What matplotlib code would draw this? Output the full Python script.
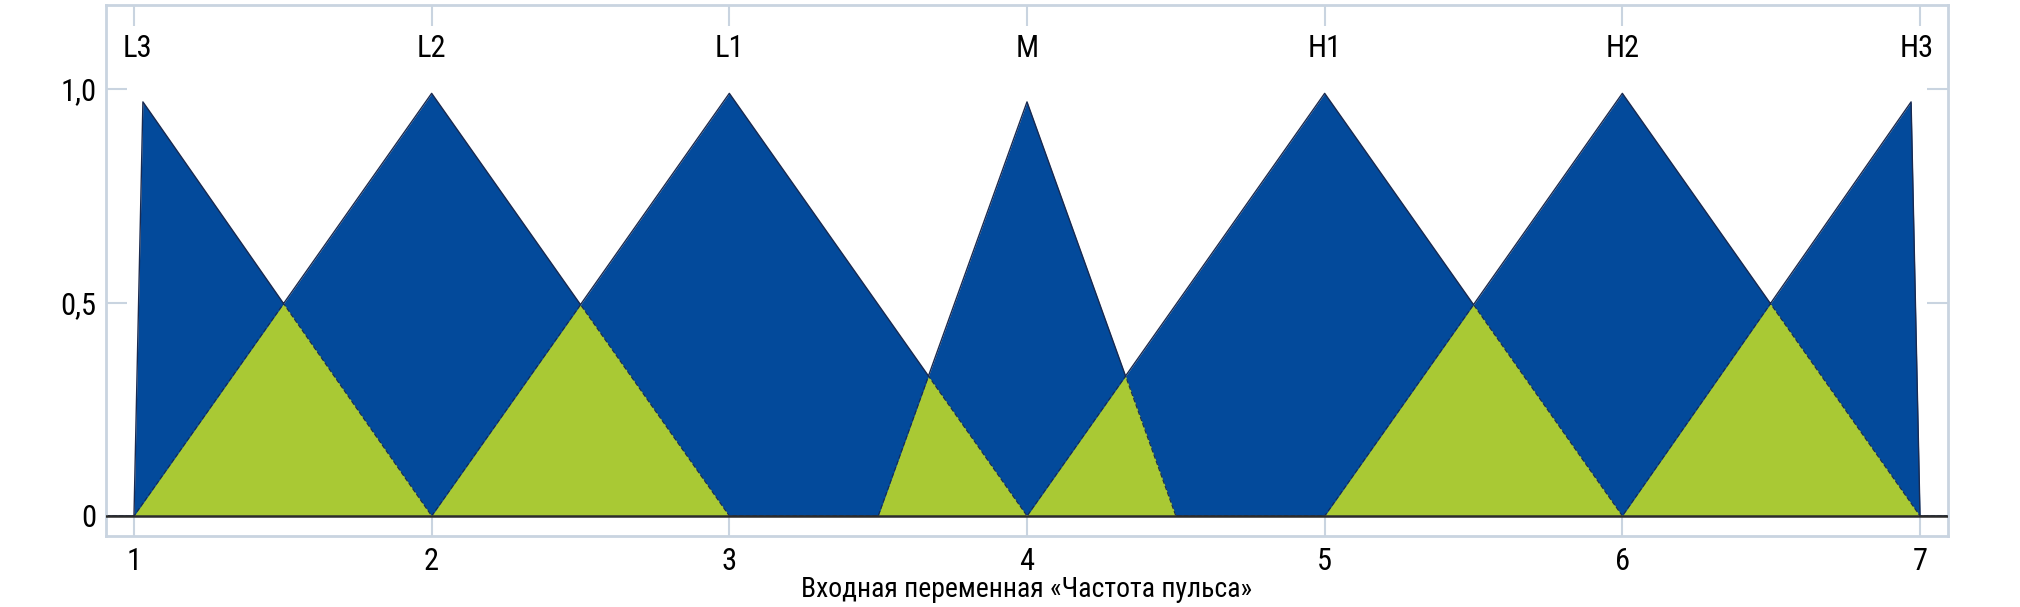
import numpy as np
import matplotlib
matplotlib.use("Agg")
import matplotlib.pyplot as plt

# термы входной переменной и вершины треугольных функций принадлежности
terms = ['L3', 'L2', 'L1', 'M', 'H1', 'H2', 'H3']
term_pos = [1.01, 2, 3, 4, 5, 6, 6.99]
mf_x = [
    [1.0, 1.03, 2.0],
    [1.0, 2.0, 3.0],
    [2.0, 3.0, 4.0],
    [3.5, 4.0, 4.5],
    [4.0, 5.0, 6.0],
    [5.0, 6.0, 7.0],
    [6.0, 6.97, 7.0],
]
mf_y = [
    [0, 0.97, 0],
    [0, 0.99, 0],
    [0, 0.99, 0],
    [0, 0.97, 0],
    [0, 0.99, 0],
    [0, 0.99, 0],
    [0, 0.97, 0],
]
x_ticks = [1, 2, 3, 4, 5, 6, 7]
y_ticks = [0, 0.5, 1.0]
y_tick_labels = ['0', '0,5', '1,0']
x_label = 'Входная переменная «Частота пульса»'

blue = '#034a9b'
green = '#a9c934'
frame = '#c9d4e0'

plt.rcParams['font.family'] = ['Roboto Condensed', 'DejaVu Sans']

x = np.linspace(0.9, 7.1, 6201)
mu = np.array([np.interp(x, xs, ys, left=0, right=0) for xs, ys in zip(mf_x, mf_y)])
mu_sorted = np.sort(mu, axis=0)
top = mu_sorted[-1]       # объединение всех термов
overlap = mu_sorted[-2]   # пересечение соседних термов

fig = plt.figure(figsize=(20.2, 6.07), dpi=100)
ax = fig.add_axes([106 / 2020, 1 - 536 / 607, (1948 - 106) / 2020, (536 - 5) / 607])

ax.fill_between(x, 0, top, color=blue, lw=0)
ax.fill_between(x, 0, overlap, color=green, lw=0)
ax.plot(x, top, color='#1a2a50', lw=1.0)
ax.plot(x, overlap, color='#1a2a50', lw=0.8, ls=(0, (4, 2)))
ax.axhline(0, color='#2b2b2b', lw=1.8, zorder=3)

for name, p in zip(terms, term_pos):
    ax.text(p, 1.096, name, ha='center', va='center', fontsize=22)

ax.set_xlim(0.906, 7.094)
ax.set_ylim(-0.047, 1.197)
ax.set_xticks(x_ticks)
ax.set_yticks(y_ticks)
ax.set_yticklabels(y_tick_labels)
ax.tick_params(direction='in', length=15, width=1.5, color=frame, labelsize=22,
               top=True, right=True)
ax.tick_params(axis='x', pad=8)
ax.tick_params(axis='y', pad=7)
for s in ax.spines.values():
    s.set_color(frame)
    s.set_linewidth(2)

ax.set_xlabel(x_label, fontsize=20, labelpad=0)

fig.savefig('out.png', dpi=100)
